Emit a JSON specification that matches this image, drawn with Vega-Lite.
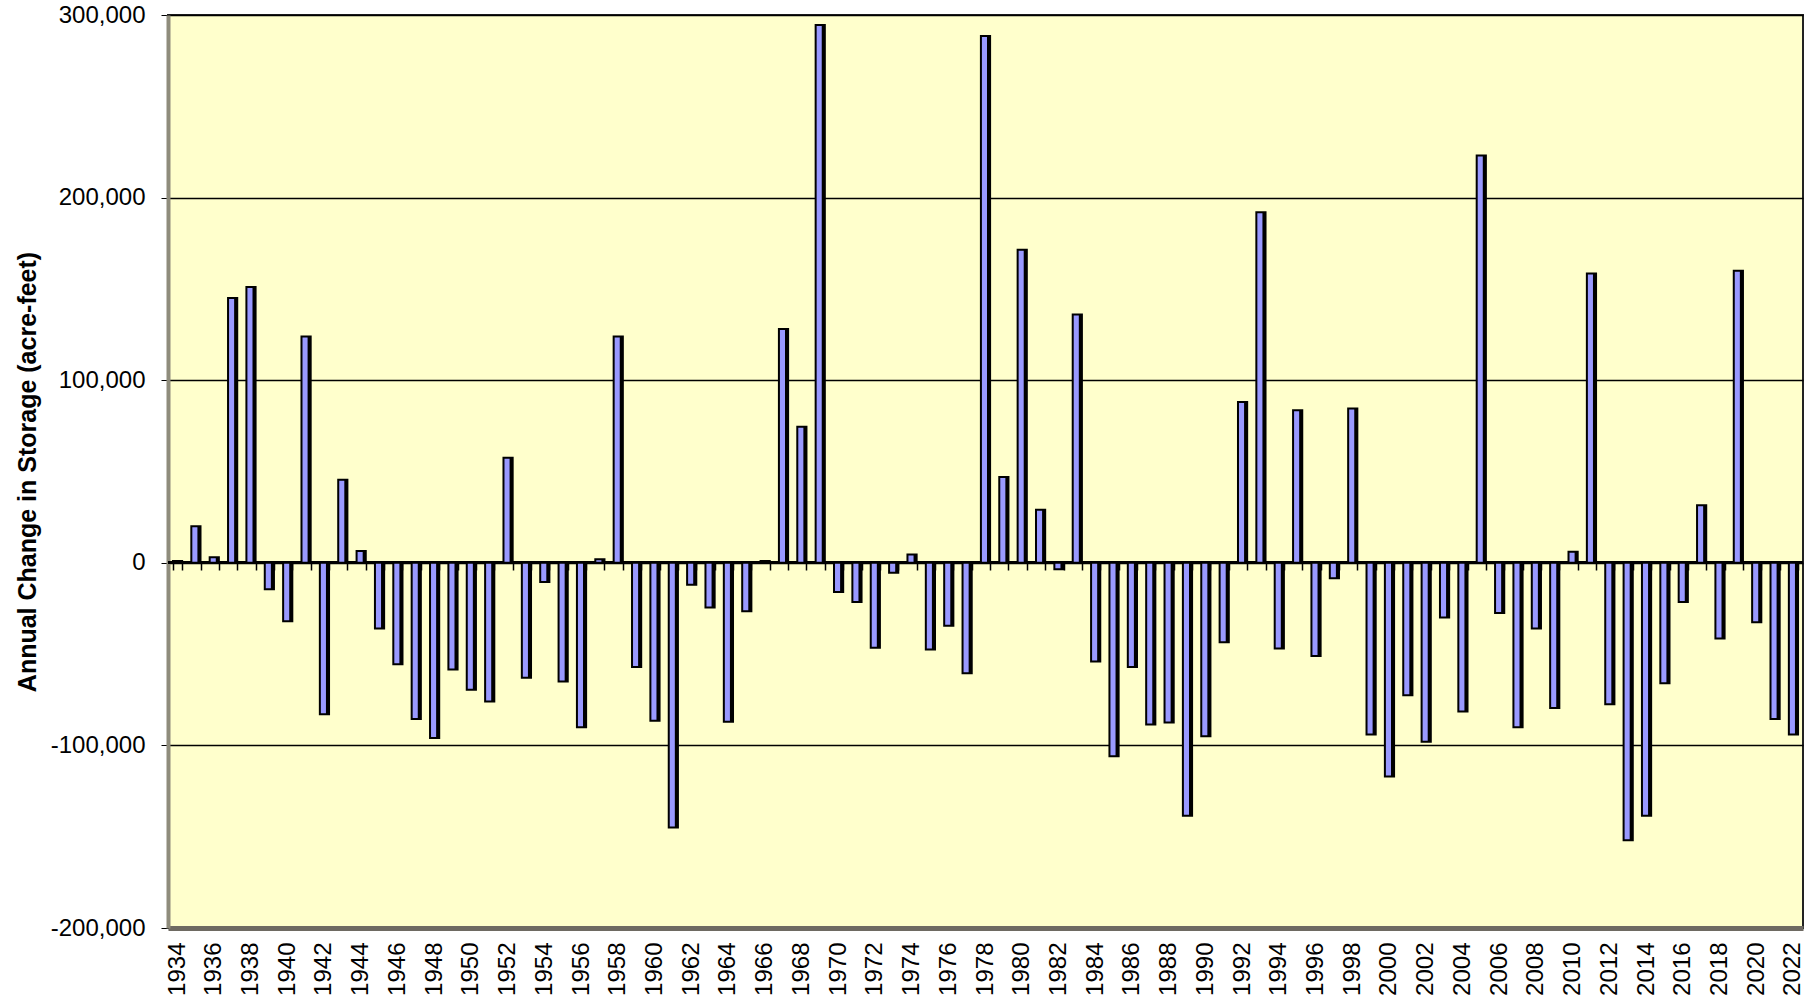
{
  "$schema": "https://vega.github.io/schema/vega-lite/v6.json",
  "width": 1635,
  "height": 913,
  "autosize": {"type": "none"},
  "padding": {"left": 168, "top": 15, "right": 14, "bottom": 76},
  "background": "#ffffff",
  "config": {
    "view": {"fill": "#ffffcc", "stroke": "#222222", "strokeWidth": 2},
    "font": "Liberation Sans"
  },
  "data": {
    "values": [
      {"year": 1934, "change": 1000}, {"year": 1935, "change": 20000}, {"year": 1936, "change": 3000},
      {"year": 1937, "change": 145000}, {"year": 1938, "change": 151000}, {"year": 1939, "change": -14500},
      {"year": 1940, "change": -32000}, {"year": 1941, "change": 124000}, {"year": 1942, "change": -83000},
      {"year": 1943, "change": 45500}, {"year": 1944, "change": 6500}, {"year": 1945, "change": -36000},
      {"year": 1946, "change": -55500}, {"year": 1947, "change": -85500}, {"year": 1948, "change": -96000},
      {"year": 1949, "change": -58500}, {"year": 1950, "change": -69500}, {"year": 1951, "change": -76000},
      {"year": 1952, "change": 57500}, {"year": 1953, "change": -63000}, {"year": 1954, "change": -10500},
      {"year": 1955, "change": -65000}, {"year": 1956, "change": -90000}, {"year": 1957, "change": 2000},
      {"year": 1958, "change": 124000}, {"year": 1959, "change": -57000}, {"year": 1960, "change": -86500},
      {"year": 1961, "change": -145000}, {"year": 1962, "change": -12000}, {"year": 1963, "change": -24500},
      {"year": 1964, "change": -87000}, {"year": 1965, "change": -26500}, {"year": 1966, "change": 1000},
      {"year": 1967, "change": 128000}, {"year": 1968, "change": 74500}, {"year": 1969, "change": 294500},
      {"year": 1970, "change": -16000}, {"year": 1971, "change": -21500}, {"year": 1972, "change": -46500},
      {"year": 1973, "change": -5500}, {"year": 1974, "change": 4500}, {"year": 1975, "change": -47500},
      {"year": 1976, "change": -34500}, {"year": 1977, "change": -60500}, {"year": 1978, "change": 288500},
      {"year": 1979, "change": 47000}, {"year": 1980, "change": 171500}, {"year": 1981, "change": 29000},
      {"year": 1982, "change": -3500}, {"year": 1983, "change": 136000}, {"year": 1984, "change": -54000},
      {"year": 1985, "change": -106000}, {"year": 1986, "change": -57000}, {"year": 1987, "change": -88500},
      {"year": 1988, "change": -87500}, {"year": 1989, "change": -138500}, {"year": 1990, "change": -95000},
      {"year": 1991, "change": -43500}, {"year": 1992, "change": 88000}, {"year": 1993, "change": 192000},
      {"year": 1994, "change": -47000}, {"year": 1995, "change": 83500}, {"year": 1996, "change": -51000},
      {"year": 1997, "change": -8500}, {"year": 1998, "change": 84500}, {"year": 1999, "change": -94000},
      {"year": 2000, "change": -117000}, {"year": 2001, "change": -72500}, {"year": 2002, "change": -98000},
      {"year": 2003, "change": -30000}, {"year": 2004, "change": -81500}, {"year": 2005, "change": 223000},
      {"year": 2006, "change": -27500}, {"year": 2007, "change": -90000}, {"year": 2008, "change": -36000},
      {"year": 2009, "change": -79500}, {"year": 2010, "change": 6000}, {"year": 2011, "change": 158500},
      {"year": 2012, "change": -77500}, {"year": 2013, "change": -152000}, {"year": 2014, "change": -138500},
      {"year": 2015, "change": -66000}, {"year": 2016, "change": -21500}, {"year": 2017, "change": 31500},
      {"year": 2018, "change": -41500}, {"year": 2019, "change": 160000}, {"year": 2020, "change": -32500},
      {"year": 2021, "change": -85500}, {"year": 2022, "change": -94000}
    ]
  },
  "layer": [
    {
      "mark": {"type": "rule", "color": "#000000", "strokeWidth": 2},
      "encoding": {"y": {"datum": 0, "type": "quantitative"}}
    },
    {
      "mark": {"type": "bar", "fill": "#9999ff", "stroke": "#000000", "strokeWidth": 2},
      "encoding": {
        "x": {
          "field": "year",
          "type": "ordinal",
          "scale": {"paddingInner": 0.5, "paddingOuter": 0.27},
          "axis": {
            "title": null,
            "labelAngle": -90,
            "labelFontSize": 24,
            "labelColor": "#000000",
            "labelPadding": 14,
            "labelExpr": "datum.value % 2 == 0 ? datum.value : ''",
            "ticks": false,
            "domain": true,
            "domainColor": "#6e6a62",
            "domainWidth": 5
          }
        },
        "y": {
          "field": "change",
          "type": "quantitative",
          "scale": {"domain": [-200000, 300000], "nice": false, "zero": false},
          "axis": {
            "title": "Annual Change in Storage (acre-feet)",
            "titleFontSize": 25,
            "titleFontWeight": "bold",
            "titleColor": "#000000",
            "titlePadding": 10,
            "values": [-200000, -100000, 0, 100000, 200000, 300000],
            "labelExpr": "datum.value < 0 ? '-' + format(-datum.value, ',') : format(datum.value, ',')",
            "labelFontSize": 24,
            "labelColor": "#000000",
            "labelPadding": 16,
            "tickSize": 7,
            "tickColor": "#000000",
            "domainColor": "#8f8c7c",
            "domainWidth": 4,
            "grid": true,
            "gridColor": "#000000",
            "gridWidth": 1.5
          }
        }
      }
    },
    {
      "mark": {"type": "bar", "fill": "#000000", "width": 3, "xOffset": 3},
      "encoding": {
        "x": {"field": "year", "type": "ordinal", "axis": null},
        "y": {"field": "change", "type": "quantitative"}
      }
    },
    {
      "mark": {"type": "tick", "opacity": 0},
      "encoding": {
        "x": {
          "field": "year",
          "type": "ordinal",
          "axis": {
            "orient": "bottom",
            "offset": -365,
            "labels": false,
            "domain": false,
            "ticks": true,
            "tickBand": "extent",
            "tickSize": 7,
            "tickColor": "#000000",
            "tickWidth": 1.5,
            "title": null
          }
        },
        "y": {"datum": 0, "type": "quantitative"}
      }
    }
  ],
  "resolve": {"axis": {"x": "independent"}}
}
